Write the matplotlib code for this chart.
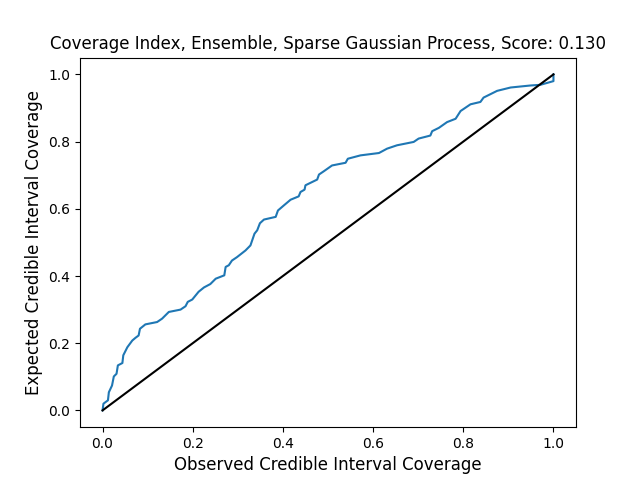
import matplotlib
matplotlib.use("Agg")
import matplotlib.pyplot as plt

observed = [0.0, 0.002, 0.012, 0.014, 0.021, 0.025, 0.031, 0.034, 0.044, 0.046, 0.055, 0.066,
            0.073, 0.080, 0.083, 0.095, 0.121, 0.132, 0.147, 0.173, 0.184, 0.189, 0.199,
            0.213, 0.225, 0.239, 0.251, 0.270, 0.273, 0.280, 0.287, 0.298, 0.317, 0.328,
            0.337, 0.343, 0.349, 0.358, 0.384, 0.389, 0.402, 0.417, 0.435, 0.439, 0.448,
            0.450, 0.476, 0.480, 0.491, 0.509, 0.539, 0.544, 0.572, 0.613, 0.631, 0.653,
            0.690, 0.701, 0.727, 0.731, 0.746, 0.764, 0.783, 0.794, 0.816, 0.838, 0.845,
            0.875, 0.905, 0.949, 0.971, 1.0, 1.0]
expected = [0.0, 0.02, 0.03, 0.054, 0.074, 0.101, 0.109, 0.134, 0.141, 0.164, 0.188, 0.208,
            0.216, 0.223, 0.243, 0.256, 0.263, 0.273, 0.293, 0.300, 0.310, 0.323, 0.330,
            0.353, 0.366, 0.376, 0.392, 0.402, 0.427, 0.432, 0.446, 0.456, 0.476, 0.491,
            0.526, 0.536, 0.557, 0.568, 0.576, 0.595, 0.610, 0.627, 0.637, 0.650, 0.657,
            0.670, 0.687, 0.702, 0.712, 0.729, 0.737, 0.749, 0.759, 0.766, 0.779, 0.789,
            0.799, 0.809, 0.818, 0.831, 0.841, 0.858, 0.868, 0.891, 0.911, 0.918, 0.931,
            0.951, 0.961, 0.967, 0.969, 0.980, 1.0]
diag = [0.0, 1.0]

fig, ax = plt.subplots(figsize=(6.4, 4.8), dpi=100)
ax.plot(observed, expected, color="#1f77b4")
ax.plot(diag, diag, color="black")
ax.set_title("Coverage Index, Ensemble, Sparse Gaussian Process, Score: 0.130")
ax.set_xlabel("Observed Credible Interval Coverage", fontsize=12)
ax.set_ylabel("Expected Credible Interval Coverage", fontsize=12)
fig.savefig("out.png", dpi=100)
